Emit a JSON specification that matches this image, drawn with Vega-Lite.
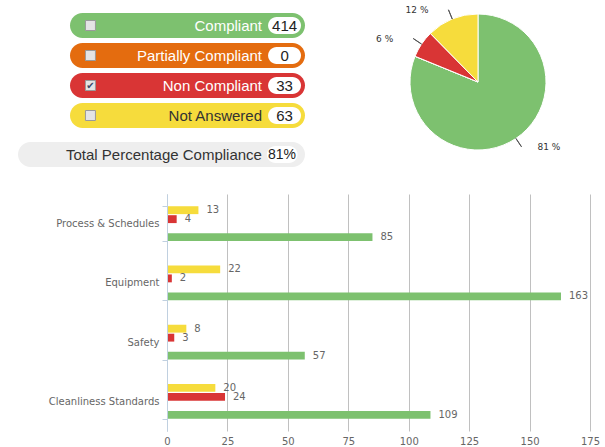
{
  "$schema": "https://vega.github.io/schema/vega-lite/v6.json",
  "padding": {"left": 18, "top": 5, "right": 7, "bottom": 4},
  "background": "white",
  "config": {"view": {"stroke": null}, "font": "DejaVu Sans"},
  "datasets": {
    "status": [
      {"status": "Compliant", "count": 414, "pct": 81, "k": 1, "checked": false},
      {"status": "Partially Compliant", "count": 0, "pct": 0, "k": 2, "checked": false},
      {"status": "Non Compliant", "count": 33, "pct": 6, "k": 3, "checked": true},
      {"status": "Not Answered", "count": 63, "pct": 12, "k": 4, "checked": false}
    ],
    "total": [{"label": "Total Percentage Compliance", "value": "81%"}],
    "bars": [
      {"category": "Process & Schedules", "status": "Not Answered", "value": 13},
      {"category": "Process & Schedules", "status": "Non Compliant", "value": 4},
      {"category": "Process & Schedules", "status": "Partially Compliant", "value": 0},
      {"category": "Process & Schedules", "status": "Compliant", "value": 85},
      {"category": "Equipment", "status": "Not Answered", "value": 22},
      {"category": "Equipment", "status": "Non Compliant", "value": 2},
      {"category": "Equipment", "status": "Partially Compliant", "value": 0},
      {"category": "Equipment", "status": "Compliant", "value": 163},
      {"category": "Safety", "status": "Not Answered", "value": 8},
      {"category": "Safety", "status": "Non Compliant", "value": 3},
      {"category": "Safety", "status": "Partially Compliant", "value": 0},
      {"category": "Safety", "status": "Compliant", "value": 57},
      {"category": "Cleanliness Standards", "status": "Not Answered", "value": 20},
      {"category": "Cleanliness Standards", "status": "Non Compliant", "value": 24},
      {"category": "Cleanliness Standards", "status": "Partially Compliant", "value": 0},
      {"category": "Cleanliness Standards", "status": "Compliant", "value": 109}
    ]
  },
  "spacing": 22,
  "vconcat": [
    {
      "spacing": 53,
      "hconcat": [
        {
          "spacing": 11,
          "vconcat": [
            {
              "width": 287,
              "height": 125,
              "data": {"name": "status"},
              "encoding": {
                "y": {
                  "field": "status",
                  "type": "nominal",
                  "sort": ["Compliant", "Partially Compliant", "Non Compliant", "Not Answered"],
                  "scale": {"paddingInner": 0.1667, "paddingOuter": 0.1667, "align": 0.7},
                  "axis": null
                }
              },
              "layer": [
                {
                  "mark": {"type": "bar", "cornerRadius": 12.5},
                  "encoding": {
                    "x": {"datum": 0, "type": "quantitative", "scale": {"domain": [0, 100], "range": [52, 287]}, "axis": null},
                    "x2": {"datum": 100},
                    "color": {
                      "field": "status",
                      "type": "nominal",
                      "scale": {
                        "domain": ["Compliant", "Partially Compliant", "Non Compliant", "Not Answered"],
                        "range": ["#7DC16F", "#E46C0F", "#D93535", "#F6DC3C"]
                      },
                      "legend": null
                    }
                  }
                },
                {
                  "mark": {"type": "point", "shape": "square", "size": 100, "filled": true, "fill": "#E4E4E4", "stroke": "#9A9A9A", "strokeWidth": 1, "opacity": 1},
                  "encoding": {"x": {"datum": 8.7, "type": "quantitative"}}
                },
                {
                  "transform": [{"filter": "datum.checked"}],
                  "mark": {"type": "text", "text": "✔", "fontSize": 10, "color": "#3A4A6A", "baseline": "middle", "align": "center"},
                  "encoding": {"x": {"datum": 8.7, "type": "quantitative"}}
                },
                {
                  "mark": {"type": "text", "align": "right", "baseline": "middle", "font": "Liberation Sans", "fontSize": 15},
                  "encoding": {
                    "x": {"datum": 81.7, "type": "quantitative"},
                    "text": {"field": "status"},
                    "color": {"condition": {"test": "datum.status === 'Not Answered'", "value": "#333333"}, "value": "#FFFFFF"}
                  }
                },
                {
                  "mark": {"type": "bar", "height": 17, "cornerRadius": 8.5, "color": "#FFFFFF"},
                  "encoding": {"x": {"datum": 84.3, "type": "quantitative"}, "x2": {"datum": 98.3}}
                },
                {
                  "mark": {"type": "text", "align": "center", "baseline": "middle", "font": "Liberation Sans", "fontSize": 15, "color": "#222222"},
                  "encoding": {"x": {"datum": 91.3, "type": "quantitative"}, "text": {"field": "count"}}
                }
              ]
            },
            {
              "width": 287,
              "height": 25,
              "data": {"name": "total"},
              "encoding": {
                "y": {"field": "label", "type": "nominal", "scale": {"paddingInner": 0, "paddingOuter": 0}, "axis": null}
              },
              "layer": [
                {
                  "mark": {"type": "bar", "cornerRadius": 12.5, "color": "#EEEEEE"},
                  "encoding": {"x": {"datum": 0, "type": "quantitative", "scale": {"domain": [0, 100]}, "axis": null}, "x2": {"datum": 100}}
                },
                {
                  "mark": {"type": "text", "align": "right", "baseline": "middle", "font": "Liberation Sans", "fontSize": 15, "color": "#333333"},
                  "encoding": {"x": {"datum": 85.0, "type": "quantitative"}, "text": {"field": "label"}}
                },
                {
                  "mark": {"type": "bar", "height": 17, "cornerRadius": 8.5, "color": "#FFFFFF"},
                  "encoding": {"x": {"datum": 86.7, "type": "quantitative"}, "x2": {"datum": 97.4}}
                },
                {
                  "mark": {"type": "text", "align": "center", "baseline": "middle", "font": "Liberation Sans", "fontSize": 14, "color": "#222222"},
                  "encoding": {"x": {"datum": 92.0, "type": "quantitative"}, "text": {"field": "value"}}
                }
              ]
            }
          ]
        },
        {
          "width": 240,
          "height": 152,
          "data": {"name": "status"},
          "layer": [
            {
              "mark": {"type": "arc", "outerRadius": 68, "stroke": "#FFFFFF", "strokeWidth": 1},
              "encoding": {
                "theta": {"field": "count", "type": "quantitative", "stack": true},
                "order": {"field": "k", "type": "quantitative"},
                "color": {
                  "field": "status",
                  "type": "nominal",
                  "scale": {
                    "domain": ["Compliant", "Partially Compliant", "Non Compliant", "Not Answered"],
                    "range": ["#7DC16F", "#E46C0F", "#D93535", "#F6DC3C"]
                  },
                  "legend": null
                }
              }
            },
            {
              "transform": [
                {"window": [{"op": "sum", "field": "count", "as": "cum"}], "sort": [{"field": "k"}], "frame": [null, 0]},
                {"calculate": "datum.cum - datum.count / 2", "as": "mid"},
                {"filter": "datum.count > 0"}
              ],
              "mark": {"type": "arc", "innerRadius": 68, "outerRadius": 78, "fillOpacity": 0, "stroke": "#555555", "strokeWidth": 1},
              "encoding": {
                "theta": {"field": "mid", "type": "quantitative", "stack": null},
                "theta2": {"field": "mid"}
              }
            },
            {
              "transform": [
                {"window": [{"op": "sum", "field": "count", "as": "cum"}], "sort": [{"field": "k"}], "frame": [null, 0]},
                {"calculate": "datum.cum - datum.count / 2", "as": "mid"},
                {"calculate": "datum.pct + ' %'", "as": "lbl"},
                {"filter": "datum.count > 0 && datum.mid < 255"}
              ],
              "mark": {"type": "text", "align": "left", "baseline": "middle", "dx": 16, "fontSize": 9, "color": "#333333"},
              "encoding": {
                "theta": {"field": "mid", "type": "quantitative", "stack": null},
                "radius": {"value": 78},
                "text": {"field": "lbl"}
              }
            },
            {
              "transform": [
                {"window": [{"op": "sum", "field": "count", "as": "cum"}], "sort": [{"field": "k"}], "frame": [null, 0]},
                {"calculate": "datum.cum - datum.count / 2", "as": "mid"},
                {"calculate": "datum.pct + ' %'", "as": "lbl"},
                {"filter": "datum.count > 0 && datum.mid >= 255"}
              ],
              "mark": {"type": "text", "align": "right", "baseline": "middle", "dx": -20, "fontSize": 9, "color": "#333333"},
              "encoding": {
                "theta": {"field": "mid", "type": "quantitative", "stack": null},
                "radius": {"value": 78},
                "text": {"field": "lbl"}
              }
            }
          ]
        }
      ]
    },
    {
      "width": 572,
      "height": 237,
      "data": {"name": "bars"},
      "encoding": {
        "y": {
          "field": "category",
          "type": "nominal",
          "sort": ["Process & Schedules", "Equipment", "Safety", "Cleanliness Standards"],
          "scale": {"paddingInner": 0.413, "paddingOuter": 0.2065},
          "axis": {
            "title": null, "labelColor": "#666666", "labelFontSize": 10, "labelFont": "DejaVu Sans",
            "labelPadding": 3, "tickBand": "extent", "tickSize": 5, "tickColor": "#C0D0E0",
            "domainColor": "#C0D0E0", "offset": -149, "minExtent": 0, "zindex": 1
          }
        },
        "yOffset": {
          "field": "status",
          "type": "nominal",
          "sort": ["Not Answered", "Non Compliant", "Partially Compliant", "Compliant"],
          "scale": {"paddingInner": 0.12, "paddingOuter": 0}
        },
        "x": {
          "field": "value",
          "type": "quantitative",
          "scale": {"domain": [0, 175], "nice": false, "range": [149, 572]},
          "axis": {
            "title": null, "values": [0, 25, 50, 75, 100, 125, 150, 175], "grid": true, "gridColor": "#C0C0C0",
            "domain": false, "ticks": false, "labelColor": "#666666", "labelFontSize": 10, "labelPadding": 5, "labelFlush": false
          }
        }
      },
      "layer": [
        {
          "mark": {"type": "bar"},
          "encoding": {
            "color": {
              "field": "status",
              "type": "nominal",
              "scale": {
                "domain": ["Compliant", "Partially Compliant", "Non Compliant", "Not Answered"],
                "range": ["#7DC16F", "#E46C0F", "#D93535", "#F6DC3C"]
              },
              "legend": null
            }
          }
        },
        {
          "transform": [{"filter": "datum.value > 0"}],
          "mark": {"type": "text", "align": "left", "baseline": "middle", "dx": 8, "fontSize": 10, "color": "#666666"},
          "encoding": {"text": {"field": "value"}}
        }
      ]
    }
  ]
}
